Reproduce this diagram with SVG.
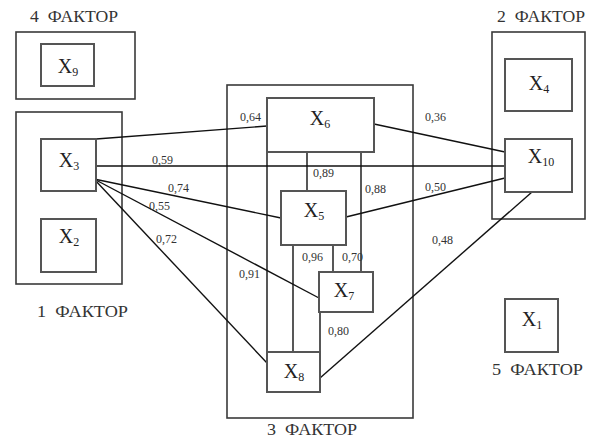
<svg xmlns="http://www.w3.org/2000/svg" width="599" height="441" viewBox="0 0 599 441">
<style>
.grp{fill:none;stroke:#3a3a3a;stroke-width:1.6}
.nd{fill:#fff;stroke:#555;stroke-width:2}
.lbl{font-family:"Liberation Serif","Times New Roman",serif;font-size:20px;fill:#222;text-anchor:middle}
.sub{font-size:12px}
.fac{font-family:"Liberation Serif","Times New Roman",serif;font-size:16px;fill:#333}
.num{font-family:"Liberation Serif","Times New Roman",serif;font-size:12px;fill:#333}
.cn line{stroke:#111;stroke-width:1.4}
</style>
<rect width="599" height="441" fill="#fff"/>
<g id="factor4"><rect class="grp" x="16" y="32" width="119" height="67"/><text class="fac" x="30" y="22" textLength="88" lengthAdjust="spacingAndGlyphs">4&#160;&#160;ФАКТОР</text></g>
<g id="factor1"><rect class="grp" x="16" y="112" width="106" height="172"/><text class="fac" x="37" y="317" textLength="91" lengthAdjust="spacingAndGlyphs">1&#160;&#160;ФАКТОР</text></g>
<g id="factor3"><rect class="grp" x="227" y="85" width="186" height="333"/><text class="fac" x="267" y="435" textLength="90" lengthAdjust="spacingAndGlyphs">3&#160;&#160;ФАКТОР</text></g>
<g id="factor2"><rect class="grp" x="492" y="32" width="93" height="187"/><text class="fac" x="497" y="22" textLength="88" lengthAdjust="spacingAndGlyphs">2&#160;&#160;ФАКТОР</text></g>
<g id="factor5"><text class="fac" x="492" y="375" textLength="91" lengthAdjust="spacingAndGlyphs">5&#160;&#160;ФАКТОР</text></g>
<g class="cn" id="connectors">
<line x1="96" y1="139" x2="267" y2="126"/>
<line x1="93" y1="166" x2="505" y2="166"/>
<line x1="94" y1="179" x2="281" y2="218"/>
<line x1="94" y1="179" x2="319" y2="298"/>
<line x1="94" y1="179" x2="267" y2="363"/>
<line x1="374" y1="124" x2="505" y2="152"/>
<line x1="346" y1="217" x2="505" y2="178"/>
<line x1="532" y1="192" x2="320" y2="378"/>
<line x1="267" y1="152" x2="267" y2="352"/>
<line x1="307" y1="152" x2="307" y2="191"/>
<line x1="361" y1="152" x2="361" y2="272"/>
<line x1="293" y1="245" x2="293" y2="352"/>
<line x1="333" y1="245" x2="333" y2="272"/>
<line x1="320" y1="312" x2="320" y2="352"/>
</g>
<g id="labels">
<text class="num" x="240" y="121">0,64</text>
<text class="num" x="152" y="164">0,59</text>
<text class="num" x="168" y="192">0,74</text>
<text class="num" x="149" y="210">0,55</text>
<text class="num" x="156" y="243">0,72</text>
<text class="num" x="313" y="177">0,89</text>
<text class="num" x="365" y="193">0,88</text>
<text class="num" x="425" y="121">0,36</text>
<text class="num" x="425" y="191">0,50</text>
<text class="num" x="432" y="244">0,48</text>
<text class="num" x="302" y="261">0,96</text>
<text class="num" x="342" y="261">0,70</text>
<text class="num" x="239" y="278">0,91</text>
<text class="num" x="328" y="335">0,80</text>
</g>
<g id="X9"><rect class="nd" x="41" y="44" width="53" height="42"/><text class="lbl" x="68" y="73">X<tspan class="sub" dy="3">9</tspan></text></g>
<g id="X3"><rect class="nd" x="41" y="139" width="55" height="52"/><text class="lbl" x="69" y="167">X<tspan class="sub" dy="3">3</tspan></text></g>
<g id="X2"><rect class="nd" x="41" y="219" width="55" height="53"/><text class="lbl" x="69" y="243">X<tspan class="sub" dy="3">2</tspan></text></g>
<g id="X6"><rect class="nd" x="267" y="98" width="107" height="54"/><text class="lbl" x="320" y="125">X<tspan class="sub" dy="3">6</tspan></text></g>
<g id="X5"><rect class="nd" x="281" y="191" width="65" height="54"/><text class="lbl" x="314" y="217">X<tspan class="sub" dy="3">5</tspan></text></g>
<g id="X7"><rect class="nd" x="319" y="272" width="54" height="40"/><text class="lbl" x="344" y="297">X<tspan class="sub" dy="3">7</tspan></text></g>
<g id="X8"><rect class="nd" x="267" y="352" width="53" height="40"/><text class="lbl" x="294" y="378">X<tspan class="sub" dy="3">8</tspan></text></g>
<g id="X4"><rect class="nd" x="505" y="59" width="67" height="52"/><text class="lbl" x="539" y="90">X<tspan class="sub" dy="3">4</tspan></text></g>
<g id="X10"><rect class="nd" x="505" y="139" width="67" height="53"/><text class="lbl" x="541" y="163">X<tspan class="sub" dy="3">10</tspan></text></g>
<g id="X1"><rect class="nd" x="505" y="299" width="53" height="53"/><text class="lbl" x="532" y="326">X<tspan class="sub" dy="3">1</tspan></text></g>
</svg>
